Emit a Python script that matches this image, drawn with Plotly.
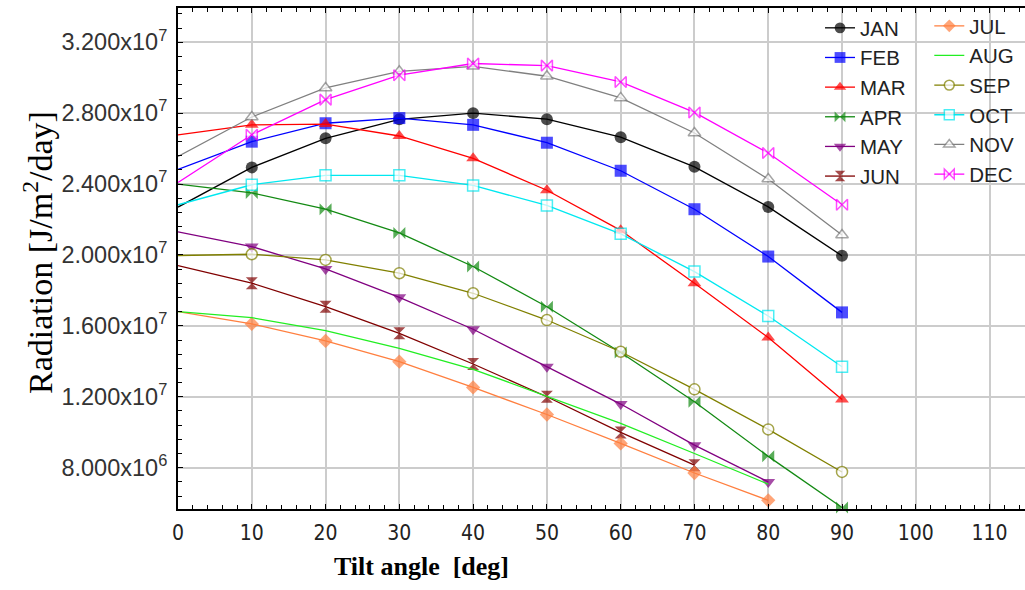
import plotly.graph_objects as go

tilt = [0, 10, 20, 30, 40, 50, 60, 70, 80, 90]

months = ["JAN", "FEB", "MAR", "APR", "MAY", "JUN", "JUL", "AUG", "SEP", "OCT", "NOV", "DEC"]

jan = [2.270e7, 2.494e7, 2.658e7, 2.765e7, 2.800e7, 2.766e7, 2.664e7, 2.497e7, 2.271e7, 1.995e7]
feb = [2.483e7, 2.639e7, 2.743e7, 2.772e7, 2.734e7, 2.633e7, 2.475e7, 2.258e7, 1.991e7, 1.676e7]
mar = [2.677e7, 2.734e7, 2.738e7, 2.671e7, 2.545e7, 2.365e7, 2.139e7, 1.840e7, 1.534e7, 1.185e7]
apr = [2.400e7, 2.350e7, 2.258e7, 2.124e7, 1.935e7, 1.708e7, 1.450e7, 1.172e7, 8.64e6, 5.75e6]
may = [2.130e7, 2.047e7, 1.921e7, 1.761e7, 1.581e7, 1.369e7, 1.159e7, 9.27e6, 7.20e6]
jun = [1.940e7, 1.841e7, 1.708e7, 1.558e7, 1.385e7, 1.200e7, 9.99e6, 8.14e6]
jul = [1.680e7, 1.611e7, 1.515e7, 1.398e7, 1.253e7, 1.100e7, 9.37e6, 7.70e6, 6.16e6]
aug = [1.680e7, 1.646e7, 1.573e7, 1.473e7, 1.355e7, 1.204e7, 1.050e7, 8.80e6, 7.07e6]
sep = [1.997e7, 2.004e7, 1.972e7, 1.897e7, 1.784e7, 1.633e7, 1.454e7, 1.242e7, 1.016e7, 7.76e6]
oct_ = [2.283e7, 2.396e7, 2.449e7, 2.449e7, 2.392e7, 2.279e7, 2.119e7, 1.906e7, 1.656e7, 1.369e7]
nov = [2.556e7, 2.778e7, 2.942e7, 3.036e7, 3.064e7, 3.008e7, 2.886e7, 2.688e7, 2.428e7, 2.113e7]
dec = [2.409e7, 2.678e7, 2.876e7, 3.014e7, 3.080e7, 3.068e7, 2.976e7, 2.804e7, 2.575e7, 2.283e7]

series = [jan, feb, mar, apr, may, jun, jul, aug, sep, oct_, nov, dec]

y_tick_vals = [8e6, 1.2e7, 1.6e7, 2.0e7, 2.4e7, 2.8e7, 3.2e7]
y_tick_text = ["8.000x10<sup>6</sup>", "1.200x10<sup>7</sup>", "1.600x10<sup>7</sup>",
               "2.000x10<sup>7</sup>", "2.400x10<sup>7</sup>", "2.800x10<sup>7</sup>",
               "3.200x10<sup>7</sup>"]
x_tick_vals = [0, 10, 20, 30, 40, 50, 60, 70, 80, 90, 100, 110]

# style per month: (line colour, symbol, marker fill, marker size)
styles = [
    ("#000000", "circle", "#000000", 12),
    ("#0000ff", "square", "#0000ff", 12),
    ("#ff0000", "triangle-up", "#ff0000", 12),
    ("#138a13", "bowtie", "#138a13", 12),
    ("#800080", "triangle-down", "#800080", 12),
    ("#800000", "hourglass", "#800000", 12),
    ("#ff7f3f", "diamond", "#ff7f3f", 11),
    ("#22ee22", None, None, 0),
    ("#808000", "circle", "#ffffff", 11),
    ("#00e8f0", "square", "#ffffff", 11),
    ("#808080", "triangle-up", "#ffffff", 11),
    ("#ff00ff", "bowtie", "#ffffff", 11),
]

fig = go.Figure()
for i, (name, vals) in enumerate(zip(months, series)):
    col, sym, fill, size = styles[i]
    xs = tilt[:len(vals)]
    tr = dict(x=xs, y=vals, name=name, cliponaxis=False,
              legend="legend" if i < 6 else "legend2",
              line=dict(color=col, width=1.3))
    if sym is None:
        tr["mode"] = "lines"
    else:
        sizes = [0] + [size] * (len(vals) - 1)
        tr["mode"] = "lines+markers"
        tr["marker"] = dict(symbol=sym, size=sizes, color=fill,
                            line=dict(color=col, width=1.5 if fill == "#ffffff" else 0))
    fig.add_trace(go.Scatter(**tr))

legend_font = dict(family="Liberation Sans, Arial, sans-serif", size=20.5, color="#222222")

fig.update_layout(
    width=1025, height=590,
    margin=dict(l=178, r=0, t=8, b=81),
    paper_bgcolor="white", plot_bgcolor="white",
    showlegend=True,
    legend=dict(x=0.758, y=1.0, xanchor="left", yanchor="top", bgcolor="rgba(0,0,0,0)",
                font=legend_font, borderwidth=0),
    legend2=dict(x=0.887, y=1.004, xanchor="left", yanchor="top", bgcolor="rgba(0,0,0,0)",
                 font=legend_font, borderwidth=0),
    xaxis=dict(range=[0, 114.8], tickmode="array", tickvals=x_tick_vals,
               showgrid=True, gridcolor="#cccccc", gridwidth=2, zeroline=False,
               showline=True, linecolor="black", linewidth=2, mirror="ticks",
               ticks="inside", ticklen=5, tickcolor="black",
               minor=dict(tickmode="linear", tick0=0, dtick=2, ticks="inside", ticklen=4,
                          tickcolor="black", showgrid=False),
               tickfont=dict(family="Liberation Sans Narrow, Arial Narrow, DejaVu Sans Condensed, Liberation Sans, Arial",
                             size=21, color="#222222"),
               ticklabelstandoff=4),
    yaxis=dict(range=[5.67e6, 3.393e7], tickmode="array", tickvals=y_tick_vals,
               ticktext=y_tick_text,
               showgrid=True, gridcolor="#cccccc", gridwidth=2, zeroline=False,
               showline=True, linecolor="black", linewidth=2,
               ticks="inside", ticklen=5, tickcolor="black",
               minor=dict(tickmode="linear", tick0=8e6, dtick=8e5, ticks="inside", ticklen=4,
                          tickcolor="black", showgrid=False),
               tickfont=dict(family="Liberation Sans, Arial, sans-serif", size=23.5, color="#333333"),
               ticklabelstandoff=4),
    annotations=[
        dict(text="Radiation [J/m<sup>2</sup>/day]", xref="paper", yref="paper",
             x=(38 - 178) / 847, y=0.511, xanchor="center", yanchor="middle", textangle=-90,
             showarrow=False,
             font=dict(family="Liberation Serif, Times New Roman, serif", size=34, color="black")),
        dict(text="<b>Tilt angle \u00a0[deg]</b>", xref="paper", yref="paper",
             x=(421 - 178) / 847, y=-0.115, xanchor="center", yanchor="middle",
             showarrow=False,
             font=dict(family="Liberation Serif, Times New Roman, serif", size=26, color="black")),
    ],
)

fig.write_html("out.html")
